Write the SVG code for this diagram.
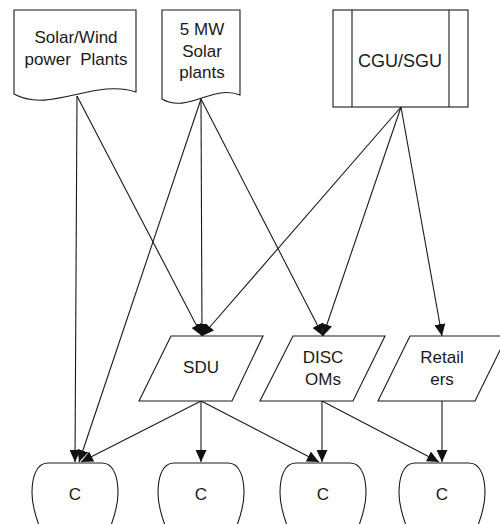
<svg xmlns="http://www.w3.org/2000/svg" width="500" height="524" viewBox="0 0 500 524">
  <style>
    .shape { fill: #ffffff; stroke: #1a1a1a; stroke-width: 1.1; }
    .edge { fill: none; stroke: #1a1a1a; stroke-width: 1.1; marker-end: url(#arrow); }
    .label { font-family: "Liberation Sans", Arial, sans-serif; font-size: 17px; fill: #1a1a1a; text-anchor: middle; }
  </style>
  <defs>
    <marker id="arrow" viewBox="0 0 12 11" refX="12" refY="5.5" markerWidth="12" markerHeight="11" markerUnits="userSpaceOnUse" orient="auto">
      <path d="M0,0 L12,5.5 L0,11 Z" fill="#111111"/>
    </marker>
  </defs>
  <rect width="500" height="524" fill="#ffffff"/>

  <!-- connectors -->
  <g id="connectors">
    <!-- into SDU -->
    <line class="edge" x1="77" y1="96" x2="202" y2="336"/>
    <line class="edge" x1="201" y1="99" x2="202" y2="336"/>
    <line class="edge" x1="401" y1="107" x2="202" y2="336"/>
    <!-- into DISC OMs -->
    <line class="edge" x1="201" y1="99" x2="323" y2="336"/>
    <line class="edge" x1="401" y1="107" x2="323" y2="336"/>
    <!-- into Retailers -->
    <line class="edge" x1="401" y1="107" x2="442" y2="336"/>
    <!-- into consumers -->
    <line class="edge" x1="77" y1="96" x2="75" y2="462"/>
    <line class="edge" x1="201" y1="99" x2="79" y2="462"/>
    <line class="edge" x1="201" y1="401" x2="81" y2="462"/>
    <line class="edge" x1="201" y1="401" x2="201" y2="462"/>
    <line class="edge" x1="201" y1="401" x2="319" y2="462"/>
    <line class="edge" x1="322" y1="401" x2="322" y2="462"/>
    <line class="edge" x1="322" y1="401" x2="439" y2="462"/>
    <line class="edge" x1="442" y1="401" x2="442" y2="462"/>
  </g>

  <!-- sources -->
  <g id="solar-wind">
    <path class="shape" d="M14,10 H136 V92 C95,78 50,114 14,94 Z"/>
    <text class="label" x="76" y="43">Solar/Wind</text>
    <text class="label" x="76" y="65" xml:space="preserve">power  Plants</text>
  </g>
  <g id="solar-5mw">
    <path class="shape" d="M162,10 H240 V95 C212,84 188,114 162,99 Z"/>
    <text class="label" x="202" y="35">5 MW</text>
    <text class="label" x="202" y="57">Solar</text>
    <text class="label" x="202" y="78">plants</text>
  </g>
  <g id="cgu-sgu">
    <rect class="shape" x="333" y="10" width="135" height="97"/>
    <line class="shape" x1="352" y1="10" x2="352" y2="107"/>
    <line class="shape" x1="449" y1="10" x2="449" y2="107"/>
    <text class="label" x="400" y="67" style="font-size:18px">CGU/SGU</text>
  </g>

  <!-- distribution -->
  <g id="sdu">
    <polygon class="shape" points="171,336 263,336 232,401 139,401"/>
    <text class="label" x="201" y="373">SDU</text>
  </g>
  <g id="disc-oms">
    <polygon class="shape" points="293,336 385,336 353,401 260,401"/>
    <text class="label" x="323" y="363">DISC</text>
    <text class="label" x="323" y="385">OMs</text>
  </g>
  <g id="retailers">
    <polygon class="shape" points="410,336 507,336 475,401 378,401"/>
    <text class="label" x="442" y="363">Retail</text>
    <text class="label" x="442" y="385">ers</text>
  </g>

  <!-- consumers -->
  <g id="consumer-1">
    <path class="shape" d="M48,463 H102 C115,463 118,480 118,493 C118,505 115,515 110,528 H40 C35,515 32,505 32,493 C32,480 35,463 48,463 Z"/>
    <text class="label" x="75" y="500">C</text>
  </g>
  <g id="consumer-2">
    <path class="shape" d="M174,463 H228 C241,463 244,480 244,493 C244,505 241,515 236,528 H166 C161,515 158,505 158,493 C158,480 161,463 174,463 Z"/>
    <text class="label" x="201" y="500">C</text>
  </g>
  <g id="consumer-3">
    <path class="shape" d="M296,463 H350 C363,463 366,480 366,493 C366,505 363,515 358,528 H288 C283,515 280,505 280,493 C280,480 283,463 296,463 Z"/>
    <text class="label" x="323" y="500">C</text>
  </g>
  <g id="consumer-4">
    <path class="shape" d="M415,463 H469 C482,463 485,480 485,493 C485,505 482,515 477,528 H407 C402,515 399,505 399,493 C399,480 402,463 415,463 Z"/>
    <text class="label" x="442" y="500">C</text>
  </g>
</svg>
